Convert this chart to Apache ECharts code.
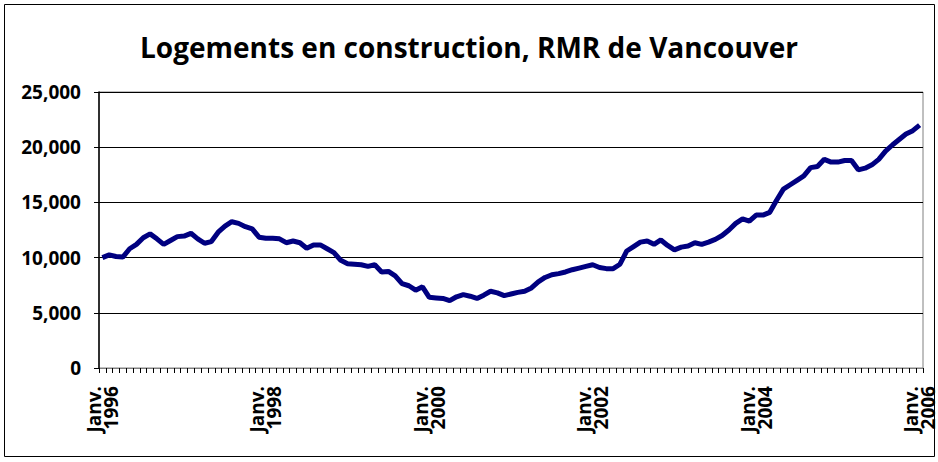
<!DOCTYPE html>
<html>
<head>
<meta charset="utf-8">
<script src="https://cdn.jsdelivr.net/npm/echarts@6/dist/echarts.min.js"></script>
<style>
  html, body { margin: 0; padding: 0; background: #fff; }
  #chart { width: 938px; height: 462px; }
</style>
</head>
<body>
<div id="chart"></div>
<script>
(function() {
  // monthly, Jan 1996 .. Jan 2006
  var months = [];
  for (var y = 1996; y <= 2006; y++) {
    for (var m = 1; m <= 12; m++) {
      if (y === 2006 && m > 1) break;
      months.push(m === 1 ? 'Janv.\n' + y : y + '-' + m);
    }
  }
  var yTicks = [0, 5000, 10000, 15000, 20000, 25000];
  var units = [
    10000, 10250, 10100, 10050, 10800, 11200, 11800, 12150, 11700, 11200, 11550, 11900,
    11950, 12200, 11700, 11300, 11450, 12300, 12850, 13250, 13100, 12800, 12600, 11850,
    11750, 11750, 11700, 11350, 11500, 11350, 10850, 11150, 11150, 10800, 10450, 9750,
    9450, 9400, 9350, 9200, 9350, 8700, 8750, 8350, 7650, 7450, 7050, 7350,
    6400, 6350, 6300, 6100, 6450, 6650, 6500, 6300, 6600, 6950, 6800, 6550,
    6700, 6850, 6950, 7250, 7800, 8200, 8450, 8550, 8700, 8900, 9050, 9200,
    9350, 9100, 9000, 9000, 9400, 10600, 11000, 11400, 11500, 11200, 11600, 11100,
    10700, 10950, 11050, 11350, 11200, 11400, 11650, 12000, 12500, 13100, 13500, 13300,
    13850, 13850, 14100, 15200, 16200, 16600, 17000, 17400, 18150, 18250, 18900, 18650,
    18650, 18800, 18800, 17950, 18100, 18400, 18900, 19650, 20200, 20700, 21200, 21500,
    22000
  ];

  var font = 'Open Sans';
  var chart = echarts.init(document.getElementById('chart'), null, { renderer: 'svg' });
  chart.setOption({
    animation: false,
    backgroundColor: '#fff',
    title: {
      text: 'Logements en construction, RMR de Vancouver',
      left: 'center',
      top: 28,
      textStyle: { fontFamily: font, fontWeight: 'bold', fontSize: 28, color: '#000' }
    },
    graphic: [{
      type: 'rect',
      shape: { x: 4.5, y: 4.5, width: 930, height: 452 },
      style: { fill: 'none', stroke: '#000', lineWidth: 1 },
      silent: true
    }],
    grid: {
      left: 99, right: 15, top: 92, bottom: 94,
      show: true, borderColor: '#808080', borderWidth: 1, backgroundColor: '#fff'
    },
    xAxis: {
      type: 'category',
      data: months,
      boundaryGap: true,
      axisLine: { lineStyle: { color: '#808080', width: 1 } },
      axisTick: { show: true, interval: 0, length: 5, lineStyle: { color: '#000' } },
      axisLabel: {
        interval: 23,
        rotate: 90,
        margin: 18,
        color: '#000',
        fontFamily: font,
        fontWeight: 'bold',
        fontSize: 19,
        lineHeight: 17
      },
      splitLine: { show: false }
    },
    yAxis: {
      type: 'value',
      min: yTicks[0],
      max: yTicks[yTicks.length - 1],
      interval: 5000,
      axisLine: { show: true, lineStyle: { color: '#000', width: 1.5 } },
      axisTick: { show: true, length: 5, lineStyle: { color: '#000' } },
      axisLabel: {
        color: '#000',
        fontFamily: font,
        fontWeight: 'bold',
        fontSize: 19,
        margin: 18,
        formatter: function(v) { return v.toLocaleString('en-US'); }
      },
      splitLine: { lineStyle: { color: '#000', width: 1 } }
    },
    series: [{
      type: 'line',
      data: units,
      showSymbol: false,
      lineStyle: { color: '#000080', width: 5 },
      itemStyle: { color: '#000080' }
    }]
  });
})();
</script>
</body>
</html>
